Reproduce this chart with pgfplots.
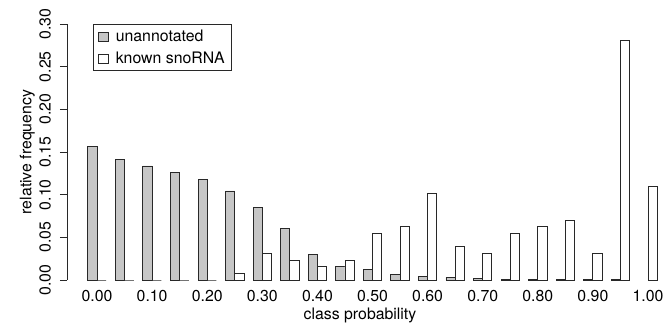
\documentclass[border=0pt]{standalone}
\usepackage{pgfplots}
\pgfplotsset{compat=1.18}
\usepackage{pgfplotstable}
\usepackage{fontspec}
\setmainfont{TeX Gyre Heros}
\definecolor{barfill}{RGB}{198,198,198}
\definecolor{edge}{RGB}{40,40,40}
\pgfplotsset{boxlegend/.style={legend image code/.code={\draw[##1, line width=0.9bp] (5bp,-4.5bp) rectangle (14.5bp,4.5bp);}}}
\newcommand{\fnt}{\fontsize{15.9}{19}\selectfont}
\pgfplotstableread{
i un sno
0 0.157 0
1 0.1415 0
2 0.1336 0
3 0.126 0
4 0.1176 0
5 0.1043 0.0078
6 0.0852 0.03125
7 0.0606 0.0234
8 0.0301 0.0156
9 0.0156 0.0234
10 0.0125 0.0547
11 0.0066 0.0625
12 0.0043 0.1016
13 0.0031 0.0391
14 0.0020 0.03125
15 0.0010 0.0547
16 0.0005 0.0625
17 0.0005 0.0703
18 0.0005 0.03125
19 0.0005 0.28125
20 nan 0.1094
}\datatable
\begin{document}
\begin{tikzpicture}
\begin{axis}[
  scale only axis,
  width=604bp, height=256bp,
  xmin=-1.09, xmax=20.835,
  ymin=0, ymax=0.30,
  axis y line*=left,
  axis x line*=bottom,
  x axis line style={draw=none},
  xtick={0,2,4,6,8,10,12,14,16,18,20},
  xticklabels={0.00,0.10,0.20,0.30,0.40,0.50,0.60,0.70,0.80,0.90,1.00},
  xtick style={draw=none},
  ytick={0,0.05,0.10,0.15,0.20,0.25,0.30},
  yticklabels={0.00,0.05,0.10,0.15,0.20,0.25,0.30},
  tick align=outside,
  major tick length=7bp,
  every tick/.style={edge, line width=0.9bp},
  y axis line style={edge, line width=0.9bp},
  xticklabel style={font=\fnt, inner sep=0pt, anchor=north},
  xticklabel shift=3bp,
  yticklabel style={font=\fnt, inner sep=0pt, rotate=90, anchor=south},
  yticklabel shift=9bp,
  xlabel={class probability},
  ylabel={relative frequency},
  xlabel style={font=\fnt, inner sep=0pt, at={(rel axis cs:0.4851,-0.1074)}, anchor=north},
  ylabel style={font=\fnt, inner sep=0pt, at={(rel axis cs:-0.0530,0.5)}, anchor=south},
  legend style={at={(rel axis cs:0.043,1)}, anchor=north west, draw=edge, line width=0.9bp,
    fill=white, font=\fnt, inner xsep=5bp, inner ysep=3.5bp,
    row sep=5bp, nodes={inner sep=2bp, text height=11.5bp, text depth=1.5bp},
    /tikz/every odd column/.append style={column sep=5bp}},
  legend cell align=left,
  clip=false,
]
\addplot[ybar, bar width=0.3333, bar shift=-0.16667, fill=barfill, draw=edge, line width=0.9bp, boxlegend]
  table[x=i, y=un] {\datatable};
\addlegendentry{unannotated}
\addplot[ybar, bar width=0.3333, bar shift=0.16667, fill=white, draw=edge, line width=0.9bp, boxlegend]
  table[x=i, y=sno] {\datatable};
\addlegendentry{known snoRNA}
\end{axis}
\pgfresetboundingbox
\path[use as bounding box] ([xshift=-67bp,yshift=-47bp]current axis.south west) rectangle ([yshift=24bp]current axis.north east);
\end{tikzpicture}
\end{document}
